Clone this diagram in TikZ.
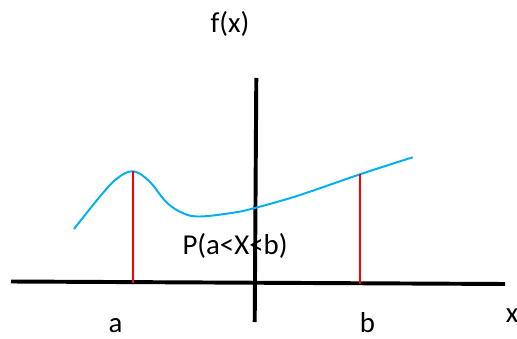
\documentclass[tikz,border=0pt]{standalone}
\usepackage{fontspec}
\setmainfont{Carlito}
\usepackage{xcolor}
\usetikzlibrary{calc}
\definecolor{curveblue}{RGB}{0,176,240}
\tikzset{
  axis/.style={line width=2.8pt,black},
  bound/.style={line width=1.6pt,red},
  lbl/.style={anchor=base,inner sep=0pt,font=\fontsize{20.5}{24}\selectfont}
}

\begin{document}
\begin{tikzpicture}[x=0.025cm,y=-0.025cm]
  \useasboundingbox (0,0) rectangle (517,339);
  \coordinate (xl) at (11,281.5);
  \coordinate (xr) at (505,284);
  \coordinate (yt) at (256.3,78);
  \coordinate (yb) at (254.7,322);
  \coordinate (fa) at (133,171.3);
  \coordinate (fb) at (360,174.3);
  \coordinate (ga) at (133,282.7);
  \coordinate (gb) at (360,283.5);
  \draw[axis] (xl) -- (xr);
  \draw[axis] (yt) -- (yb);
  \draw[curveblue,line width=1.4pt] plot[smooth,tension=0.6] coordinates {
    (74,229) (100,196.5) (117,178.5) (fa) (149,181) (166.7,202.5)
    (183.3,213.3) (200,216.5) (233.3,212.7) (256,207.7) (300,195)
    (fb) (412.7,157.3)};
  \draw[bound] (fa) -- (ga);
  \draw[bound] (fb) -- (gb);
  \node[lbl] (fx) at (230,33) {f(x)};
  \node[lbl] (prob) at (235,254) {P(a<X<b)};
  \node[lbl] (la) at (115.5,332) {a};
  \node[lbl] (lb) at (367.5,332) {b};
  \node[lbl] (lx) at (512,322) {x};
\end{tikzpicture}
\end{document}
